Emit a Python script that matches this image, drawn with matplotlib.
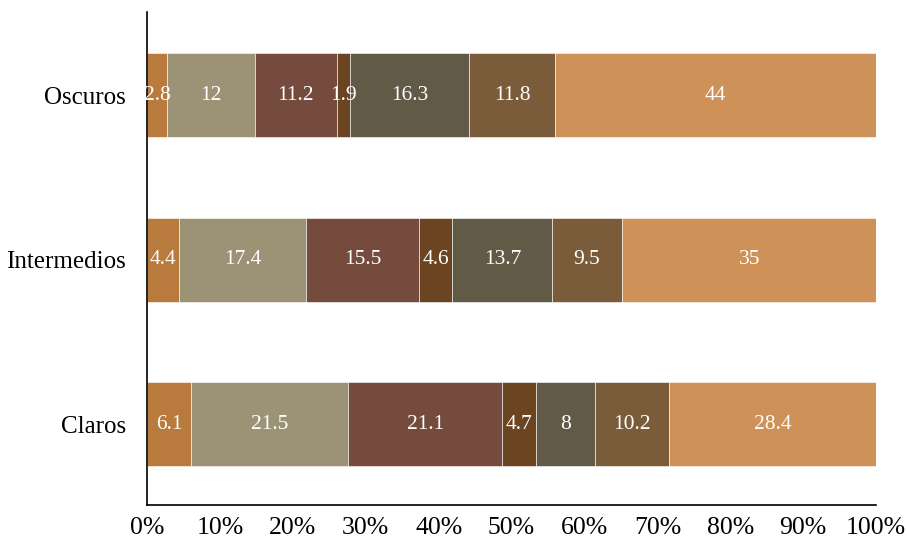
import matplotlib
matplotlib.use('Agg')
import matplotlib.pyplot as plt
import numpy as np

categories = ['Claros', 'Intermedios', 'Oscuros']
segments = [
    [6.1, 4.4, 2.8],
    [21.5, 17.4, 12],
    [21.1, 15.5, 11.2],
    [4.7, 4.6, 1.9],
    [8, 13.7, 16.3],
    [10.2, 9.5, 11.8],
    [28.4, 35, 44],
]
colors = ['#B87A3D', '#9C9275', '#744B3D', '#6B4421', '#605A47', '#7A5B3A', '#CE9157']
tick_labels = ['0%', '10%', '20%', '30%', '40%', '50%', '60%', '70%', '80%', '90%', '100%']

plt.rcParams['font.family'] = ['Liberation Serif', 'DejaVu Serif']

fig = plt.figure(figsize=(9.07, 5.43), dpi=100)
ax = fig.add_axes([0.162, 0.070, 0.804, 0.908])

y = np.arange(len(categories))
left = np.zeros(len(categories))
for vals, c in zip(segments, colors):
    vals = np.array(vals, dtype=float)
    ax.barh(y, vals, left=left, height=0.51, color=c, edgecolor='white', linewidth=0.4)
    for yi, l, v in zip(y, left, vals):
        ax.text(l + v / 2, yi, f'{v:g}', ha='center', va='center', color='white', fontsize=15.5)
    left += vals

ax.set_xlim(0, 100)
ax.set_ylim(-0.49, 2.505)
ax.set_yticks(y)
ax.set_yticklabels(categories, fontsize=18)
ax.set_xticks(np.arange(0, 101, 10))
ax.set_xticklabels(tick_labels, fontsize=18.5)
ax.tick_params(axis='y', length=0, pad=15)
ax.tick_params(axis='x', length=0, pad=9)
ax.spines['top'].set_visible(False)
ax.spines['right'].set_visible(False)
for s in ['left', 'bottom']:
    ax.spines[s].set_linewidth(1.2)
    ax.spines[s].set_color('black')

fig.savefig('out.png', dpi=100)
